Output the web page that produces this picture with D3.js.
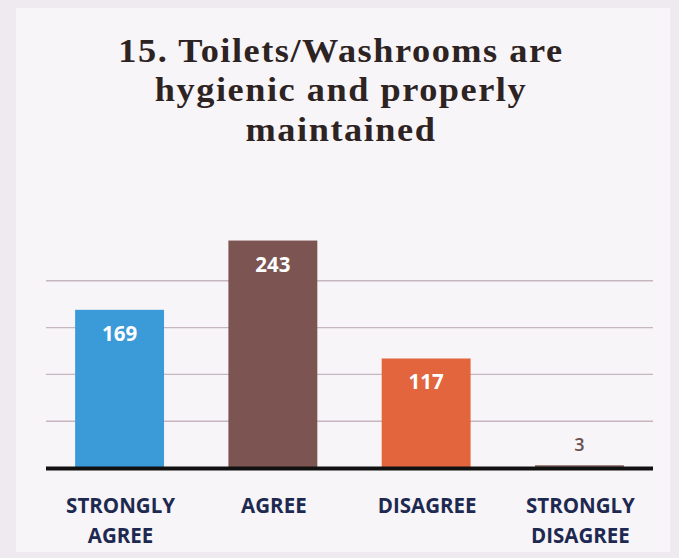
<!DOCTYPE html>
<html><head><meta charset="utf-8">
<script src="https://cdn.jsdelivr.net/npm/d3@7"></script>
<style>html,body{margin:0;padding:0;background:#eeeaf0;}</style>
</head><body>
<svg id="c" width="679" height="558"></svg>
<script>
const titleLines = ["15. Toilets/Washrooms are", "hygienic and properly", "maintained"];
const categories = ["STRONGLY AGREE", "AGREE", "DISAGREE", "STRONGLY DISAGREE"];
const categoryLines = [["STRONGLY", "AGREE"], ["AGREE"], ["DISAGREE"], ["STRONGLY", "DISAGREE"]];
const values = [169, 243, 117, 3];
const colors = ["#3b9ad8", "#7c5452", "#e2653e", "#8a6a66"];
const gridTicks = [50, 100, 150, 200];

const svg = d3.select("#c");
svg.append("rect").attr("x", 16).attr("y", 8).attr("width", 654).attr("height", 544)
  .attr("fill", "#f7f5f7");

const m = {left: 46, right: 653, top: 234, bottom: 468};
const x = d3.scaleBand().domain(categories).range([m.left, m.right]).paddingInner(0.42).paddingOuter(0.19);
const y = d3.scaleLinear().domain([0, 250]).range([m.bottom, m.top]);

// title
svg.append("text").attr("text-anchor", "middle")
  .attr("font-family", "Liberation Serif, serif").attr("font-weight", "bold")
  .attr("font-size", 33).attr("letter-spacing", 1.4).attr("fill", "#2e2323")
  .attr("transform", "translate(341,62) scale(1.1,1)")
  .selectAll("tspan").data(titleLines).join("tspan")
  .attr("x", 0).attr("dy", (d, i) => i === 0 ? 0 : 39.5).text(d => d);

// gridlines
svg.append("g").selectAll("line").data(gridTicks).join("line")
  .attr("x1", m.left).attr("x2", m.right)
  .attr("y1", d => y(d)).attr("y2", d => y(d))
  .attr("stroke", "#c7b6bf").attr("stroke-width", 1.4);

// bars
svg.append("g").selectAll("rect").data(values).join("rect")
  .attr("x", (d, i) => x(categories[i]))
  .attr("width", x.bandwidth())
  .attr("y", d => y(d))
  .attr("height", d => y(0) - y(d))
  .attr("fill", (d, i) => colors[i]);

// value labels
svg.append("g").selectAll("text").data(values).join("text")
  .attr("x", (d, i) => x(categories[i]) + x.bandwidth() / 2)
  .attr("y", d => d > 20 ? y(d) + 31 : y(d) - 14)
  .attr("text-anchor", "middle")
  .attr("font-family", "Open Sans, sans-serif")
  .attr("font-weight", d => d > 20 ? "bold" : 600)
  .attr("font-size", d => d > 20 ? 20.5 : 18)
  .attr("fill", d => d > 20 ? "#ffffff" : "#6b504d")
  .text(d => d);

// baseline
svg.append("line").attr("x1", m.left).attr("x2", m.right)
  .attr("y1", y(0) + 0.5).attr("y2", y(0) + 0.5)
  .attr("stroke", "#111").attr("stroke-width", 4);

// category labels
const xa = svg.append("g").selectAll("text").data(categories).join("text")
  .attr("text-anchor", "middle")
  .attr("font-family", "Open Sans, sans-serif").attr("font-weight", "bold")
  .attr("font-size", 20.5).attr("fill", "#1d2950")
  .attr("transform", d => `translate(${x(d) + x.bandwidth() / 2 + 1},${y(0) + 45})`);
xa.selectAll("tspan").data((d, i) => categoryLines[i]).join("tspan")
  .attr("x", 0).attr("dy", (d, i) => i === 0 ? 0 : 30).text(d => d);
</script>
</body></html>
